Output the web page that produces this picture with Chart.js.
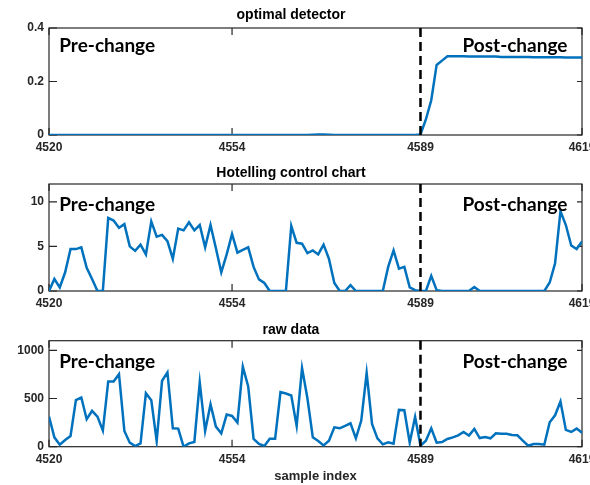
<!DOCTYPE html>
<html>
<head>
<meta charset="utf-8">
<script src="https://cdn.jsdelivr.net/npm/chart.js@4.4.1/dist/chart.umd.min.js"></script>
<style>
  html, body { margin: 0; padding: 0; background: #fff; overflow: hidden; }
  #wrap { position: relative; width: 610px; height: 485px; }
  .panel { position: absolute; left: 0; width: 610px; }
</style>
</head>
<body>
<div id="wrap">
  <div class="panel" style="top:0;height:160px"><canvas id="chart1"></canvas></div>
  <div class="panel" style="top:160px;height:160px"><canvas id="chart2"></canvas></div>
  <div class="panel" style="top:320px;height:165px"><canvas id="chart3"></canvas></div>
</div>
<script>
var firstSample = 4520;
var lastSample = 4619;
var changePoint = 4589;
var xTicks = [4520, 4554, 4589, 4619];

var optimalStat = [
  0, 0, 0, 0, 0, 0, 0, 0, 0, 0,
  0, 0, 0, 0, 0, 0, 0, 0, 0, 0,
  0, 0, 0, 0, 0, 0, 0, 0, 0, 0,
  0, 0, 0, 0, 0, 0, 0, 0, 0, 0,
  0, 0, 0, 0, 0, 0, 0, 0, 0, 0.001,
  0.002, 0.002, 0.001, 0, 0, 0, 0, 0, 0, 0,
  0, 0, 0, 0, 0, 0, 0, 0, 0, 0.002,
  0.058, 0.13, 0.262, 0.278, 0.294, 0.294, 0.294, 0.294, 0.293, 0.293,
  0.293, 0.293, 0.293, 0.293, 0.292, 0.292, 0.292, 0.292, 0.292, 0.292,
  0.291, 0.291, 0.291, 0.291, 0.291, 0.291, 0.29, 0.29, 0.29, 0.29
];

var hotellingStat = [
  0, 1.35, 0.4, 2.1, 4.7, 4.7, 4.9, 2.6, 1.35, 0,
  0, 8.2, 7.9, 7.1, 7.5, 5.0, 4.5, 5.2, 4.1, 7.8,
  6.1, 6.3, 5.6, 3.6, 7.0, 6.8, 7.7, 6.8, 7.4, 4.9,
  7.4, 4.8, 2.1, 4.1, 6.4, 4.3, 4.6, 4.9, 2.7, 1.3,
  0.9, 0, 0, 0, 0, 7.3, 5.4, 5.3, 4.25, 4.55,
  4.1, 5.2, 3.6, 0.9, 0, 0, 0.65, 0, 0, 0,
  0, 0, 0, 2.7, 4.55, 2.5, 2.7, 0.4, 0.1, 0,
  0, 1.7, 0.1, 0, 0, 0, 0, 0, 0, 0.45,
  0, 0, 0, 0, 0, 0, 0, 0, 0, 0,
  0, 0, 0, 0.95, 3.1, 8.95, 7.4, 5.1, 4.7, 5.55
];

var rawData = [
  312, 97, 21, 69, 111, 483, 510, 285, 372, 312,
  167, 677, 677, 753, 163, 42, 7, 35, 555, 483,
  59, 684, 771, 191, 188, 0, 35, 49, 667, 163,
  441, 208, 139, 333, 319, 250, 830, 625, 80, 28,
  7, 83, 83, 566, 552, 531, 215, 816, 503, 97,
  59, 14, 62, 201, 191, 215, 243, 87, 271, 764,
  236, 87, 24, 45, 31, 382, 378, 42, 309, 10,
  62, 191, 42, 49, 80, 97, 118, 153, 115, 184,
  90, 101, 87, 139, 135, 135, 122, 118, 62, 10,
  28, 28, 21, 253, 326, 469, 174, 153, 188, 146
];

var sampleIndex = rawData.map(function (v, i) { return firstSample + i; });

Chart.defaults.font.family = '"Liberation Sans", Arial, sans-serif';
Chart.defaults.color = '#262626';

// MATLAB style box with inward ticks, change line and the two labels
var matlabFrame = {
  id: 'matlabFrame',
  beforeDatasetsDraw: function (chart) {
    var a = chart.chartArea, c = chart.ctx;
    var xs = chart.scales.x, ys = chart.scales.y;
    c.save();
    c.strokeStyle = '#262626';
    c.lineWidth = 1.2;
    c.strokeRect(a.left, a.top, a.right - a.left, a.bottom - a.top);
    c.beginPath();
    xTicks.forEach(function (v) {
      var px = xs.getPixelForValue(v);
      c.moveTo(px, a.bottom); c.lineTo(px, a.bottom - 7);
      c.moveTo(px, a.top); c.lineTo(px, a.top + 7);
    });
    ys.ticks.forEach(function (t) {
      var py = ys.getPixelForValue(t.value);
      c.moveTo(a.left, py); c.lineTo(a.left + 8, py);
      c.moveTo(a.right, py); c.lineTo(a.right - 5, py);
    });
    c.stroke();
    c.restore();
  },
  afterDatasetsDraw: function (chart, args, opts) {
    var a = chart.chartArea, c = chart.ctx;
    var xs = chart.scales.x, ys = chart.scales.y;
    var px = xs.getPixelForValue(changePoint);
    c.save();
    c.strokeStyle = '#000';
    c.lineWidth = 2.5;
    c.setLineDash([9, 5]);
    c.beginPath();
    c.moveTo(px, a.top); c.lineTo(px, a.bottom);
    c.stroke();
    c.setLineDash([]);
    c.fillStyle = '#000';
    c.font = 'bold 19px Lato, "Noto Sans", sans-serif';
    c.textBaseline = 'middle';
    c.textAlign = 'left';
    (opts.labels || []).forEach(function (l) {
      c.fillText(l.text, xs.getPixelForValue(l.x), ys.getPixelForValue(l.y));
    });
    c.restore();
  }
};

function makePanel(id, values, yMax, yTicks, title, titlePad, xAxisHeight, labelY, xTitle) {
  return new Chart(document.getElementById(id), {
    type: 'line',
    data: {
      labels: sampleIndex,
      datasets: [{
        data: values.map(function (v, i) { return { x: sampleIndex[i], y: v }; }),
        borderColor: '#0072BD',
        borderWidth: 2.5,
        pointRadius: 0,
        tension: 0,
        fill: false
      }]
    },
    plugins: [matlabFrame],
    options: {
      responsive: true,
      maintainAspectRatio: false,
      animation: false,
      layout: { padding: { left: 0, right: 28, top: 0, bottom: 0 } },
      plugins: {
        legend: { display: false },
        tooltip: { enabled: false },
        title: {
          display: true,
          text: title,
          color: '#000',
          font: { size: 14, weight: 'bold' },
          padding: titlePad
        },
        matlabFrame: {
          labels: [
            { text: 'Pre-change', x: 4521.9, y: labelY },
            { text: 'Post-change', x: 4596.8, y: labelY }
          ]
        }
      },
      scales: {
        x: {
          type: 'linear',
          min: firstSample,
          max: lastSample,
          afterBuildTicks: function (s) { s.ticks = xTicks.map(function (v) { return { value: v }; }); },
          afterFit: function (s) { s.height = xAxisHeight; },
          grid: { display: false, drawTicks: false },
          border: { display: false },
          ticks: {
            autoSkip: false, maxRotation: 0, padding: 5.5,
            font: { size: 12, weight: 'bold' },
            callback: function (v) { return String(v); }
          },
          title: xTitle ? {
            display: true, text: xTitle, color: '#262626',
            font: { size: 13, weight: 'bold' },
            padding: { top: 0, bottom: 0.5 }
          } : { display: false }
        },
        y: {
          min: 0,
          max: yMax,
          afterBuildTicks: function (s) { s.ticks = yTicks.map(function (v) { return { value: v }; }); },
          afterFit: function (s) { s.width = 49; },
          grid: { display: false, drawTicks: false },
          border: { display: false },
          ticks: {
            padding: 5,
            font: { size: 12, weight: 'bold' },
            callback: function (v) { return String(v); }
          }
        }
      }
    }
  });
}

makePanel('chart1', optimalStat, 0.4, [0, 0.2, 0.4], 'optimal detector',
  { top: 6.6, bottom: 4.6 }, 25, 0.333, null);
makePanel('chart2', hotellingStat, 12, [0, 5, 10], 'Hotelling control chart',
  { top: 4.9, bottom: 2.3 }, 29, 9.64, null);
makePanel('chart3', rawData, 1100, [0, 500, 1000], 'raw data',
  { top: 1.6, bottom: 2.3 }, 38.3, 882, 'sample index');
</script>
</body>
</html>
